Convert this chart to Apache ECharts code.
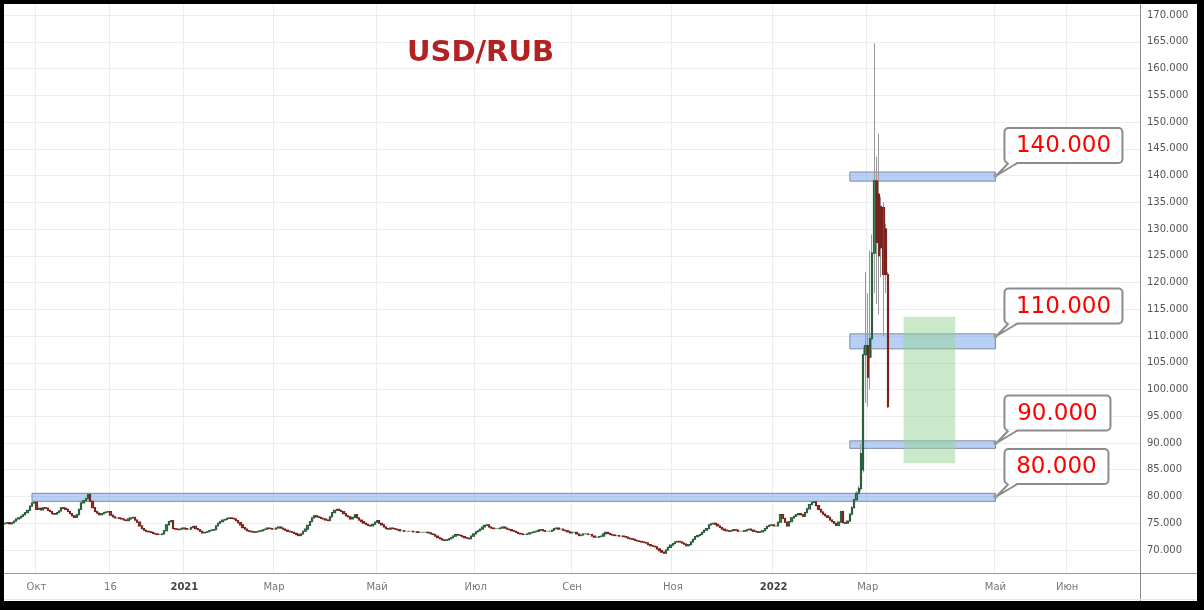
<!DOCTYPE html>
<html><head><meta charset="utf-8">
<script src="https://cdn.jsdelivr.net/npm/echarts@6/dist/echarts.min.js"></script>
<style>
html,body{margin:0;padding:0;background:#000;width:1204px;height:610px;overflow:hidden}
#c{position:absolute;left:4px;top:4px;width:1193px;height:597px;background:#fff}
</style></head><body><div id="c"></div>
<script>
// daily closes (bar slots 0..377)
const closes = [
75.0,75.1,74.9,75.1,75.4,75.8,76.0,76.3,76.6,77.0,
77.4,78.2,78.8,78.9,77.6,77.8,77.5,77.9,77.8,77.4,
77.2,76.8,76.7,77.0,77.3,77.9,77.8,77.6,77.2,76.8,
76.4,76.1,76.6,77.6,78.8,79.2,79.6,80.4,79.1,77.9,
77.2,76.9,76.6,76.8,77.0,77.1,77.2,76.5,76.2,76.0,
76.0,75.9,75.8,75.6,75.5,75.8,76.0,76.1,75.6,75.2,
74.5,74.0,73.7,73.5,73.4,73.3,73.1,73.0,72.9,72.9,
73.0,73.6,74.7,75.3,75.5,74.0,73.9,73.8,73.9,74.1,
74.0,73.9,73.9,74.2,74.4,74.0,73.8,73.5,73.2,73.3,
73.4,73.6,73.7,73.8,74.5,75.0,75.3,75.6,75.7,75.9,
76.0,75.9,75.8,75.5,75.1,74.7,74.2,73.9,73.6,73.5,
73.4,73.3,73.4,73.5,73.6,73.8,73.9,74.1,74.0,73.9,
73.9,74.1,74.3,74.1,73.9,73.7,73.5,73.4,73.3,73.1,
72.9,72.7,73.0,73.5,73.9,74.6,75.3,76.0,76.4,76.2,
76.1,75.9,75.8,75.6,75.5,76.2,77.0,77.4,77.6,77.4,
77.2,76.8,76.4,76.2,75.8,76.1,76.6,76.0,75.6,75.3,
75.0,74.8,74.6,74.5,74.8,75.2,75.5,75.0,74.7,74.3,
74.0,73.9,74.1,74.0,73.9,73.8,73.6,73.6,73.5,73.5,
73.5,73.5,73.4,73.4,73.3,73.3,73.3,73.3,73.3,73.2,
73.0,72.9,72.6,72.3,72.1,71.9,71.8,71.9,72.1,72.3,
72.6,72.9,72.8,72.7,72.5,72.3,72.2,72.1,72.6,73.0,
73.4,73.6,73.9,74.3,74.6,74.7,74.3,74.1,74.0,74.0,
74.0,74.1,74.3,74.1,73.9,73.8,73.6,73.5,73.3,73.1,
73.0,72.9,72.9,73.0,73.2,73.3,73.4,73.5,73.7,73.8,
73.6,73.5,73.5,73.5,73.7,74.0,74.1,73.9,73.9,73.7,
73.6,73.4,73.2,73.3,73.3,73.0,72.7,72.8,73.0,73.0,
72.9,72.9,72.6,72.4,72.4,72.5,72.6,73.0,73.3,73.1,
72.9,72.8,72.7,72.7,72.6,72.6,72.5,72.4,72.2,72.1,
72.0,71.8,71.7,71.6,71.5,71.4,71.3,71.0,70.8,70.7,
70.6,70.2,69.9,69.6,69.4,70.0,70.5,70.9,71.2,71.5,
71.6,71.5,71.3,71.1,70.8,71.0,71.5,72.0,72.5,72.7,
72.9,73.3,73.7,74.0,74.7,74.9,75.0,74.8,74.5,74.2,
73.9,73.7,73.6,73.5,73.6,73.8,73.7,73.5,73.5,73.5,
73.6,73.8,73.9,73.7,73.5,73.4,73.3,73.4,73.6,74.0,
74.4,74.6,74.7,74.5,74.5,75.2,76.6,75.9,75.2,74.5,
75.3,76.0,76.3,76.6,76.8,76.6,76.3,77.0,77.7,78.5,
78.9,79.0,78.3,77.6,77.1,76.7,76.4,76.1,75.6,75.3,
75.0,74.6,75.2,77.2,75.1,75.0,75.4,76.7
];
const firstOpen = 74.9;
// the February–March 2022 spike, full OHLC (slots 378..394)
const spikeOpen  = [76.7,77.9,79.4,80.6,81.5,85.0,106.5,108.2,106.0,109.5,125.5,139.0,136.5,134.2,134.0,130.0,121.5];
const spikeClose = [77.9,79.4,80.6,81.5,88.0,106.5,108.2,102.3,109.5,125.5,139.0,127.5,125.0,126.5,121.5,121.5,96.8];
const spikeLow   = [76.5,77.8,79.2,80.4,81.0,84.5,97.5,96.8,100.0,106.0,118.0,116.0,114.0,121.0,110.0,118.0,96.5];
const spikeHigh  = [78.2,79.6,81.0,82.0,89.8,108.0,122.0,118.0,126.0,129.0,164.7,143.5,147.8,136.0,135.0,131.0,122.0];

const slotCount = 507;
const tickIndex  = [14,47,80,120,166,210,253,298,343,385,442,474];
const tickLabels = ['Окт','16','2021','Мар','Май','Июл','Сен','Ноя','2022','Мар','Май','Июн'];
const yTicks = [70,75,80,85,90,95,100,105,110,115,120,125,130,135,140,145,150,155,160,165,170];

const levels     = [140, 110, 90, 80];
const levelLow   = [138.95, 107.6, 89.0, 79.1];
const levelHigh  = [140.65, 110.4, 90.4, 80.6];
const levelStart = [377, 377, 377, 12];
const levelEnd   = [442, 442, 442, 442];
const targetStart = 401, targetEnd = 424, targetLow = 86.2, targetHigh = 113.6;
const titleText = 'USD/RUB';

// ---- build
const categories = Array.from({length: slotCount}, (_, i) => String(i));
const labelMap = {};
tickIndex.forEach((k, j) => labelMap[k] = tickLabels[j]);
const ohlc = [];
closes.forEach((c, i) => {
  const o = i === 0 ? firstOpen : closes[i - 1];
  ohlc.push([o, c, Math.min(o, c), Math.max(o, c)]);
});
spikeOpen.forEach((o, j) => ohlc.push([o, spikeClose[j], spikeLow[j], spikeHigh[j]]));
const bodies = ohlc.map(d => [d[0], d[1], Math.min(d[0], d[1]), Math.max(d[0], d[1])]);

const areaData = levels.map((lv, k) => [
  {xAxis: levelStart[k], yAxis: levelLow[k], itemStyle: {color: 'rgba(125,170,238,0.55)', borderColor: '#7f8ba0', borderWidth: 1}},
  {xAxis: levelEnd[k], yAxis: levelHigh[k]}
]);
areaData.push([
  {xAxis: targetStart, yAxis: targetLow, itemStyle: {color: 'rgba(150,212,150,0.5)', borderWidth: 0}},
  {xAxis: targetEnd, yAxis: targetHigh}
]);

const FONT = '"DejaVu Sans", Verdana, sans-serif';
const chart = echarts.init(document.getElementById('c'));
chart.setOption({
  animation: false,
  backgroundColor: '#fff',
  grid: {left: 0, right: 57, top: 0, bottom: 28, containLabel: false},
  xAxis: {
    type: 'category', data: categories, boundaryGap: true,
    axisLine: {show: true, lineStyle: {color: '#9a9a9a', width: 1}},
    axisTick: {show: false},
    axisLabel: {
      interval: (i) => labelMap[i] !== undefined,
      formatter: (v, i) => {
        const t = labelMap[i] || '';
        return /^\d{4}$/.test(t) ? '{b|' + t + '}' : t;
      },
      margin: 9, color: '#777', fontSize: 10, fontFamily: FONT,
      rich: {b: {fontWeight: 'bold', color: '#444', fontSize: 10, fontFamily: FONT}}
    },
    splitLine: {show: true, interval: (i) => labelMap[i] !== undefined, lineStyle: {color: '#ededed', width: 1}}
  },
  yAxis: {
    type: 'value', position: 'right', min: 65.70, max: 172.06, scale: true,
    axisLine: {show: true, lineStyle: {color: '#8a8a8a', width: 1}},
    axisTick: {show: false, customValues: yTicks},
    axisLabel: {customValues: yTicks, formatter: v => v.toFixed(3), margin: 7, color: '#555', fontSize: 10, fontFamily: FONT},
    splitLine: {show: true, lineStyle: {color: '#ededed', width: 1}}
  },
  series: [
    {
      type: 'candlestick', name: 'wicks', data: ohlc, barWidth: 1, silent: true, z: 2,
      itemStyle: {color: '#9a9a9a', color0: '#9a9a9a', borderColor: '#9a9a9a', borderColor0: '#9a9a9a', borderWidth: 1}
    },
    {
      type: 'candlestick', name: 'bodies', data: bodies, barWidth: '80%', silent: true, z: 3,
      itemStyle: {color: '#3f8f5b', color0: '#b5352b', borderColor: '#2c5f3e', borderColor0: '#7a241d', borderWidth: 1.2},
      markArea: {silent: true, label: {show: false}, data: areaData}
    }
  ]
});

// callouts anchored at the right end of each level zone
const boxW = [118, 118, 106, 104];
const boxH = 35;
const graphics = [];
levels.forEach((lv, k) => {
  const p = chart.convertToPixel({gridIndex: 0}, [levelEnd[k], lv]);
  const px = p[0], py = p[1];
  const bx = px + 9, by = py - 12.5, w = boxW[k];
  graphics.push({
    type: 'rect', z: 100,
    shape: {x: bx, y: by - boxH, width: w, height: boxH, r: 4},
    style: {fill: '#fff', stroke: '#8c8c8c', lineWidth: 2}
  });
  graphics.push({
    type: 'polygon', z: 101,
    shape: {points: [[bx + 4, by - 1.2], [bx + 13, by - 1.2], [px + 1, py]]},
    style: {fill: '#fff', stroke: null}
  });
  graphics.push({
    type: 'polyline', z: 101,
    shape: {points: [[bx + 4, by], [px + 1, py], [bx + 13, by]]},
    style: {fill: null, stroke: '#8c8c8c', lineWidth: 2, lineJoin: 'round'}
  });
  graphics.push({type: 'circle', z: 102, shape: {cx: px, cy: py, r: 2.2}, style: {fill: '#9a9a9a'}});
  graphics.push({
    type: 'text', z: 103, x: bx + w / 2, y: by - boxH / 2 + 1,
    style: {text: lv.toFixed(3), fill: '#ff0000', font: '23px ' + FONT, align: 'center', verticalAlign: 'middle'}
  });
});
graphics.push({
  type: 'text', z: 102, x: 403, y: 49,
  style: {text: titleText, fill: '#b22222', font: 'bold 29px ' + FONT, align: 'left', verticalAlign: 'middle'}
});
graphics.push({type: 'line', z: 50, shape: {x1: 1136, y1: 569.5, x2: 1193, y2: 569.5}, style: {stroke: '#9a9a9a', lineWidth: 1}});
graphics.push({type: 'line', z: 50, shape: {x1: 1136.5, y1: 569, x2: 1136.5, y2: 597}, style: {stroke: '#8a8a8a', lineWidth: 1}});
graphics.push({type: 'line', z: 50, shape: {x1: 0, y1: 595.5, x2: 1193, y2: 595.5}, style: {stroke: '#e6e6e6', lineWidth: 1}});
chart.setOption({graphic: graphics});
</script></body></html>
